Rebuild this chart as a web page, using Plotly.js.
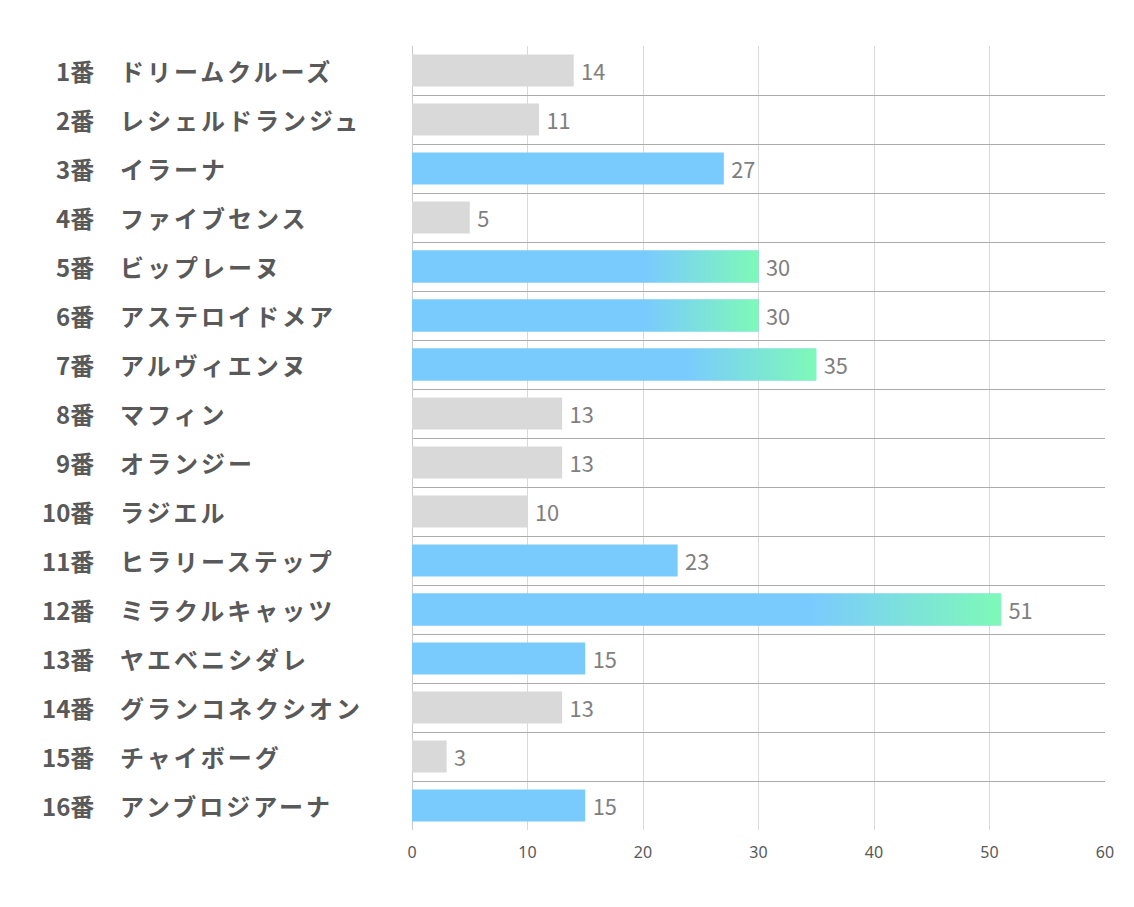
<!DOCTYPE html>
<html>
<head>
<meta charset="utf-8">
<script src="https://cdn.plot.ly/plotly-3.0.1.min.js"></script>
<style>
html,body{margin:0;padding:0;background:#fff;}
#chart{width:1134px;height:907px;}
</style>
</head>
<body>
<div id="chart"></div>
<script>
// ---- data ----
const numbers = ["1番","2番","3番","4番","5番","6番","7番","8番","9番","10番","11番","12番","13番","14番","15番","16番"];
const names = ["ドリームクルーズ","レシェルドランジュ","イラーナ","ファイブセンス","ビップレーヌ","アステロイドメア","アルヴィエンヌ","マフィン","オランジー","ラジエル","ヒラリーステップ","ミラクルキャッツ","ヤエベニシダレ","グランコネクシオン","チャイボーグ","アンブロジアーナ"];
const values = [14,11,27,5,30,30,35,13,13,10,23,51,15,13,3,15];
const highlighted = [3,5,6,7,11,12,13,16];   // horse numbers drawn in blue
const gradientBars = [5,6,7,12];             // horse numbers drawn with blue→green gradient
const xTicks = [0,10,20,30,40,50,60];

// ---- styles ----
const GRAY = "#d9d9d9", BLUE = "#7acbfd", GREEN = "#7ef9b8";
const BARW = 0.65;
const idx = values.map((v,i)=>i);
const horseNo = idx.map(i=>i+1);

const traces = [];
traces.push({
  type:"bar", orientation:"h",
  x: values, y: idx,
  width: BARW,
  marker:{color: horseNo.map(n => highlighted.includes(n) ? BLUE : GRAY), line:{width:0}},
  text: values.map(v => "\u2009" + v),
  textposition:"outside",
  cliponaxis:false,
  textfont:{family:"'Noto Sans CJK JP', 'Noto Sans', sans-serif", size:24, color:"#7f7f7f"},
  hoverinfo:"x+y",
  showlegend:false
});

gradientBars.forEach(n=>{
  const i = n-1, v = values[i];
  traces.push({
    type:"scatter", mode:"lines",
    x:[0, v, v, 0, 0],
    y:[i-BARW/2, i-BARW/2, i+BARW/2, i+BARW/2, i-BARW/2],
    fill:"toself",
    line:{width:0, color:"rgba(0,0,0,0)"},
    fillgradient:{type:"horizontal", colorscale:[[0,BLUE],[0.68,BLUE],[1,GREEN]]},
    hoverinfo:"skip",
    showlegend:false
  });
});

const annotations = [];
idx.forEach(i=>{
  annotations.push({
    xref:"paper", yref:"y", x:-0.4560, y:i, xanchor:"right", yanchor:"middle",
    text:numbers[i], showarrow:false,
    font:{family:"'Noto Sans CJK JP', sans-serif", size:24, color:"#595959", weight:"bold"}
  });
});
idx.forEach(i=>{
  annotations.push({
    xref:"paper", yref:"y", x:-0.4245, y:i, xanchor:"left", yanchor:"middle",
    text:'<span style="letter-spacing:3px">' + names[i] + '</span>', showarrow:false,
    font:{family:"'Noto Sans CJK JP', sans-serif", size:24, color:"#595959", weight:"bold"}
  });
});

const boundaries = [];
for (let k=0;k<=values.length;k++) boundaries.push(k-0.5);

const layout = {
  width:1134, height:907,
  margin:{l:412, r:29, t:46, b:77},
  paper_bgcolor:"#fff", plot_bgcolor:"#fff",
  bargap:0.35,
  xaxis:{
    range:[0,60], tickvals:xTicks, ticktext:xTicks.map(String),
    showgrid:true, gridcolor:"#d9d9d9", gridwidth:1,
    zeroline:true, zerolinecolor:"#c8c8c8", zerolinewidth:1,
    showline:false, ticks:"", ticklabelstandoff:11,
    tickfont:{family:"'Noto Sans', sans-serif", size:16, color:"#595959"},
    fixedrange:true
  },
  yaxis:{
    range:[values.length-0.5, -0.5],
    tickvals:boundaries, showticklabels:false, ticks:"",
    showgrid:true, gridcolor:"#ababab", gridwidth:1,
    zeroline:false, showline:false, fixedrange:true
  },
  annotations:annotations,
  showlegend:false,
  font:{family:"'Noto Sans CJK JP', sans-serif"}
};

Plotly.newPlot("chart", traces, layout, {displayModeBar:false, staticPlot:true});
</script>
</body>
</html>
